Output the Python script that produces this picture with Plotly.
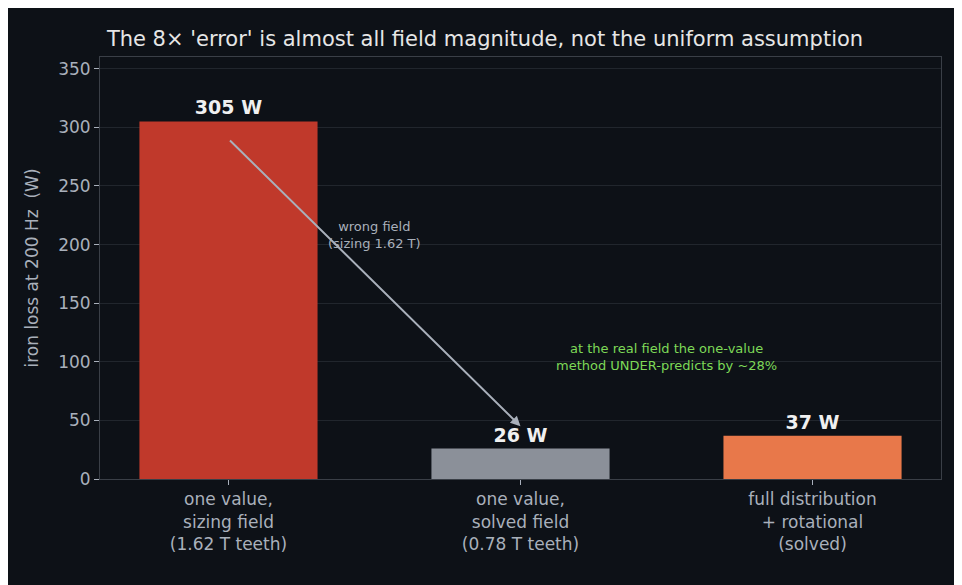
import plotly.graph_objects as go

categories = ["one value,<br>sizing field<br>(1.62 T teeth)",
              "one value,<br>solved field<br>(0.78 T teeth)",
              "full distribution<br>+ rotational<br>(solved)"]
values = [305, 26, 37]
labels = ["<b>305 W</b>", "<b>26 W</b>", "<b>37 W</b>"]
colors = ["#c0392b", "#8b9099", "#e8784a"]

fig = go.Figure()
fig.add_trace(go.Bar(
    x=[0, 1, 2], y=values, marker=dict(color=colors, line=dict(width=0)),
    width=0.61, text=labels, textposition="outside",
    textfont=dict(size=19, color="#f0f0f0", family="DejaVu Sans"),
    cliponaxis=False, hoverinfo="skip"
))

# arrow from the sizing-field bar down to the solved-field bar
fig.add_annotation(x=1, y=45, ax=0, ay=290,
                   xref="x", yref="y", axref="x", ayref="y",
                   showarrow=True, arrowhead=2, arrowsize=1, arrowwidth=2,
                   arrowcolor="#a9b0bb", text="")
fig.add_annotation(x=0.5, y=208, xref="x", yref="y", showarrow=False,
                   text="wrong field<br>(sizing 1.62 T)",
                   font=dict(size=13, color="#a9b0bb", family="DejaVu Sans"))
fig.add_annotation(x=1.5, y=104, xref="x", yref="y", showarrow=False,
                   text="at the real field the one-value<br>method UNDER-predicts by ~28%",
                   font=dict(size=13, color="#7ed957", family="DejaVu Sans"))

axis_common = dict(showline=True, linecolor="#3a3f47", mirror=True,
                   tickfont=dict(size=17, color="#a9b0bb"), ticks="outside",
                   tickcolor="#a9b0bb", ticklen=5)
fig.update_layout(
    width=954, height=577,
    paper_bgcolor="#0d1117", plot_bgcolor="#0d1117",
    font=dict(family="DejaVu Sans", color="#a9b0bb"),
    title=dict(text="The 8× 'error' is almost all field magnitude, not the uniform assumption",
               x=0.5, xanchor="center", y=0.96,
               font=dict(size=21, color="#e6e6e6")),
    margin=dict(l=92, r=21, t=49, b=106),
    showlegend=False,
    xaxis=dict(**axis_common, showgrid=False, range=[-0.44, 2.44],
               tickvals=[0, 1, 2], ticktext=categories),
    yaxis=dict(**axis_common, range=[0, 360], dtick=50, gridcolor="#21262d",
               zeroline=False,
               title=dict(text="iron loss at 200 Hz  (W)", font=dict(size=17, color="#a9b0bb"))),
)

fig.write_html("out.html")
